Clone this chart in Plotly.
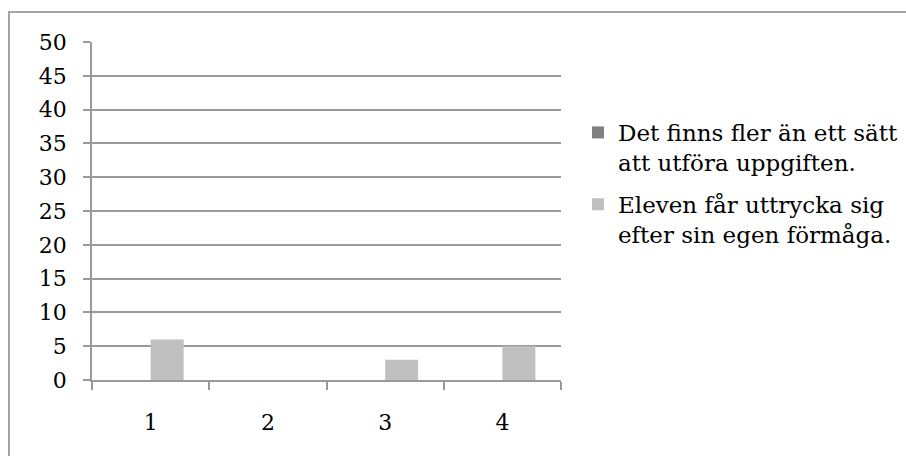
import plotly.graph_objects as go

# Category labels and the two series (counts per item)
categories = ["1", "2", "3", "4"]
series_a_name = "Det finns fler än ett sätt<br>att utföra uppgiften."
series_b_name = "Eleven får uttrycka sig<br>efter sin egen förmåga."
series_a = [0, 0, 0, 0]
series_b = [6, 0, 3, 5]
y_tick_values = [0, 5, 10, 15, 20, 25, 30, 35, 40, 45, 50]

W, H = 906, 456
L, R, T, B = 92, 345, 42, 76
plot_w = W - L - R
plot_h = H - T - B


def px_x(px):
    return (px - L) / plot_w


def px_y(py):
    return (H - B - py) / plot_h


FONT = "DejaVu Serif"
GRID = "#9a9a9a"

fig = go.Figure()
fig.add_trace(go.Bar(x=categories, y=series_a, name=series_a_name,
                     marker=dict(color="#808080", line=dict(width=0)),
                     legendgroup="a"))
fig.add_trace(go.Bar(x=categories, y=series_b, name=series_b_name,
                     marker=dict(color="#c0c0c0", line=dict(width=0)),
                     legendgroup="b"))

fig.update_layout(
    width=W, height=H,
    margin=dict(l=L, r=R, t=T, b=B, autoexpand=False),
    paper_bgcolor="white", plot_bgcolor="white",
    barmode="group", bargap=0.437, bargroupgap=0,
    font=dict(family=FONT, size=22, color="#000000"),
    showlegend=True,
    legend=dict(x=px_x(578), y=px_y(111), xanchor="left", yanchor="top",
                font=dict(family=FONT, size=23, color="#000000"),
                valign="top", tracegroupgap=9, bgcolor="rgba(0,0,0,0)",
                traceorder="grouped"),
    xaxis=dict(type="category", showgrid=False, showline=True,
               linecolor=GRID, linewidth=1.5, ticks="outside",
               tickson="boundaries", ticklen=8, tickcolor=GRID,
               tickwidth=1.5, ticklabelstandoff=22,
               tickfont=dict(family=FONT, size=22, color="#000000")),
    yaxis=dict(range=[0, 50], tickmode="array", tickvals=y_tick_values,
               showgrid=True, gridcolor=GRID, gridwidth=1.5,
               zeroline=False, showline=True, linecolor=GRID,
               linewidth=1.5, ticks="outside", ticklen=7, tickcolor=GRID,
               tickwidth=1.5, ticklabelstandoff=12,
               tickfont=dict(family=FONT, size=22, color="#000000")),
    shapes=[dict(type="rect", xref="paper", yref="paper",
                 x0=px_x(9), x1=px_x(912), y0=px_y(462), y1=px_y(12),
                 line=dict(color="#a5a5a5", width=2),
                 fillcolor="rgba(0,0,0,0)", layer="below")],
)

fig.write_html("out.html")
